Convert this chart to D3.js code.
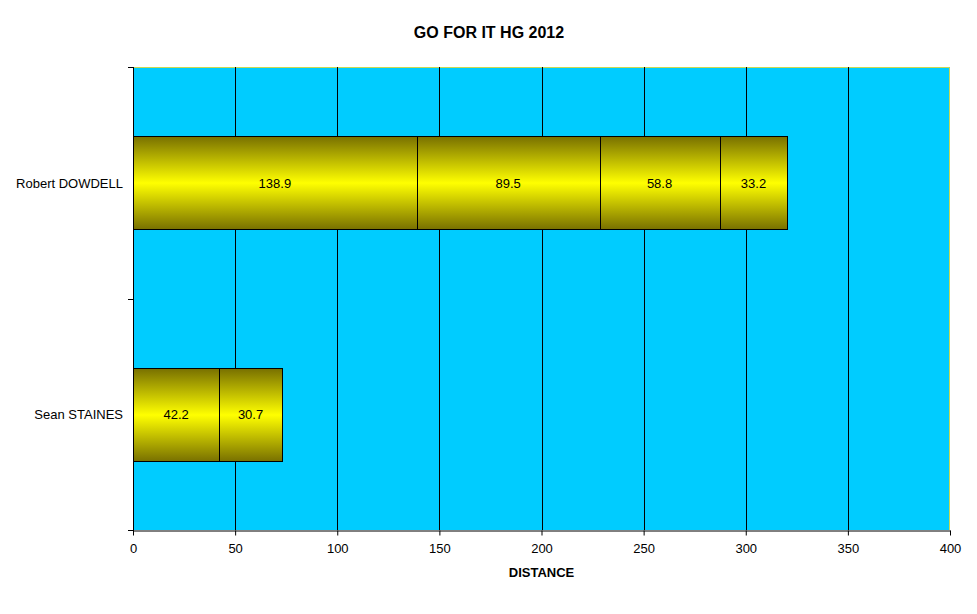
<!DOCTYPE html>
<html>
<head>
<meta charset="utf-8">
<script src="https://cdn.jsdelivr.net/npm/d3@7"></script>
<style>
body{margin:0;background:#fff;}
text{font-family:"Liberation Sans",Arial,sans-serif;}
</style>
</head>
<body>
<svg id="chart" width="977" height="614"></svg>
<script>
const categories = ["Robert DOWDELL", "Sean STAINES"];
const flight1 = [138.9, 42.2];
const flight2 = [89.5, 30.7];
const flight3 = [58.8, 0];
const flight4 = [33.2, 0];
const seriesList = [flight1, flight2, flight3, flight4];
const xTicks = [0, 50, 100, 150, 200, 250, 300, 350, 400];
const titleText = "GO FOR IT HG 2012";
const xAxisTitle = "DISTANCE";

const svg = d3.select("#chart");
const m = {left: 133, right: 950, top: 67, bottom: 530};

const x = d3.scaleLinear().domain([0, 400]).range([m.left, m.right]);
const y = d3.scaleBand().domain(categories).range([m.top, m.bottom]).paddingInner(0.6).paddingOuter(0.3);

const defs = svg.append("defs");
const g = defs.append("linearGradient").attr("id", "barGrad").attr("x1", 0).attr("y1", 0).attr("x2", 0).attr("y2", 1);
g.append("stop").attr("offset", "0%").attr("stop-color", "#787000");
g.append("stop").attr("offset", "50%").attr("stop-color", "#ffff00");
g.append("stop").attr("offset", "100%").attr("stop-color", "#787000");

// plot background
svg.append("rect").attr("x", m.left).attr("y", m.top).attr("width", m.right - m.left).attr("height", m.bottom - m.top)
  .attr("fill", "#00ccff");
// yellowish top & right border
svg.append("path").attr("d", `M${m.left},${m.top + 0.5}H${m.right - 0.5}V${m.bottom}`).attr("fill", "none")
  .attr("stroke", "#c8d850").attr("stroke-width", 1);

// gridlines
svg.append("g").selectAll("line").data(xTicks.slice(1, -1)).join("line")
  .attr("x1", d => Math.round(x(d)) + 0.5).attr("x2", d => Math.round(x(d)) + 0.5)
  .attr("y1", m.top).attr("y2", m.bottom).attr("stroke", "#000").attr("stroke-width", 1);

// stacked bars
const segs = [];
categories.forEach((c, i) => {
  let acc = 0;
  seriesList.forEach((s, k) => {
    const v = s[i];
    if (v > 0) { segs.push({cat: c, x0: acc, x1: acc + v, v}); acc += v; }
  });
});
const bars = svg.append("g");
bars.selectAll("rect").data(segs).join("rect")
  .attr("x", d => Math.round(x(d.x0)) + 0.5)
  .attr("y", d => Math.round(y(d.cat)) + 0.5)
  .attr("width", d => Math.round(x(d.x1)) - Math.round(x(d.x0)))
  .attr("height", Math.round(y.bandwidth()))
  .attr("fill", "url(#barGrad)").attr("stroke", "#000").attr("stroke-width", 1);
bars.selectAll("text").data(segs).join("text")
  .attr("x", d => (x(d.x0) + x(d.x1)) / 2)
  .attr("y", d => y(d.cat) + y.bandwidth() / 2 + 5)
  .attr("text-anchor", "middle").attr("font-size", 13).attr("fill", "#000")
  .text(d => d.v.toFixed(1));

// x axis
const xAxis = svg.append("g").attr("transform", `translate(0,${m.bottom + 0.5})`)
  .call(d3.axisBottom(x).tickValues(xTicks).tickSize(5).tickPadding(8).tickSizeOuter(0));
xAxis.select(".domain").attr("stroke", "#000");
xAxis.selectAll("text").attr("font-size", 13).attr("fill", "#000").attr("font-family", "Liberation Sans, Arial, sans-serif");

// y axis line with ticks at band edges
const yAx = svg.append("g");
yAx.append("line").attr("x1", m.left + 0.5).attr("x2", m.left + 0.5).attr("y1", m.top).attr("y2", m.bottom + 1).attr("stroke", "#000");
const yEdges = [m.top, (m.top + m.bottom) / 2, m.bottom];
yAx.selectAll("line.t").data(yEdges).join("line").attr("class", "t")
  .attr("x1", m.left - 5).attr("x2", m.left).attr("y1", d => Math.round(d) + 0.5).attr("y2", d => Math.round(d) + 0.5).attr("stroke", "#000");
yAx.selectAll("text").data(categories).join("text")
  .attr("x", m.left - 10).attr("y", d => y(d) + y.bandwidth() / 2 + 5)
  .attr("text-anchor", "end").attr("font-size", 13).attr("fill", "#000").text(d => d);

// titles
svg.append("text").attr("x", 489).attr("y", 38).attr("text-anchor", "middle").attr("font-size", 16)
  .attr("font-weight", "bold").text(titleText);
svg.append("text").attr("x", (m.left + m.right) / 2).attr("y", 577).attr("text-anchor", "middle").attr("font-size", 13)
  .attr("font-weight", "bold").text(xAxisTitle);
</script>
</body>
</html>
